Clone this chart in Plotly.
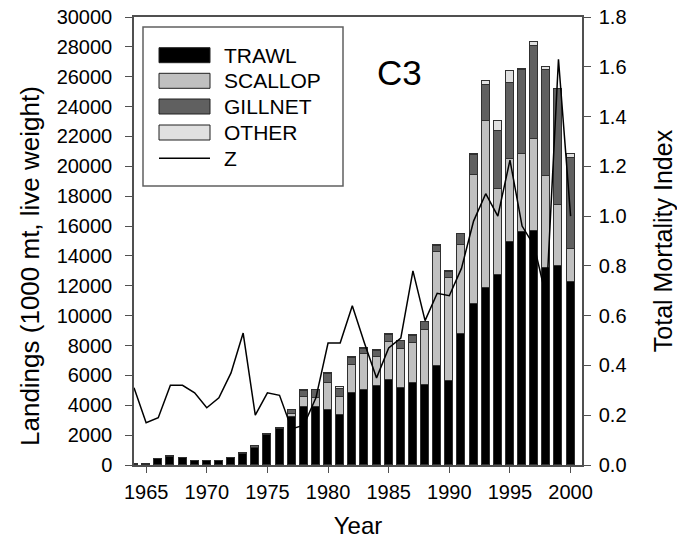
import plotly.graph_objects as go

years = list(range(1964, 2001))

trawl = [50, 80, 370, 550, 450, 280, 240, 240, 450, 760, 1160, 2020, 2400,
         3200, 3870, 3910, 3650, 3340, 4850, 5050, 5320, 5720, 5190, 5520, 5390,
         6660, 5650, 8800, 10810, 11880, 12750, 14960, 15580, 15650, 13220, 13350, 12240]
scallop = [0, 0, 0, 0, 0, 0, 0, 0, 0, 0, 0, 0, 0,
           230, 690, 590, 1850, 1200, 1830, 2350, 1900, 2550, 2610, 2660, 3680,
           7580, 6850, 5940, 8630, 11130, 5740, 5540, 5250, 6180, 6110, 4090, 2250]
gillnet = [0, 0, 0, 60, 30, 20, 20, 20, 30, 60, 90, 60, 100,
           270, 380, 500, 600, 560, 470, 400, 400, 430, 500, 470, 480,
           450, 430, 710, 1310, 2410, 3900, 5080, 5590, 6200, 7140, 7710, 6090]
other = [0, 0, 0, 0, 0, 0, 0, 0, 0, 0, 0, 0, 0,
         10, 110, 50, 70, 130, 90, 60, 60, 80, 30, 60, 50,
         30, 30, 30, 100, 270, 670, 820, 100, 270, 180, 50, 270]
z_index = [0.31, 0.17, 0.19, 0.32, 0.32, 0.29, 0.23, 0.27, 0.37, 0.53, 0.20, 0.29, 0.28,
           0.145, 0.16, 0.27, 0.49, 0.49, 0.64, 0.49, 0.35, 0.47, 0.51, 0.78, 0.58,
           0.69, 0.68, 0.79, 0.98, 1.09, 1.00, 1.225, 0.96, 0.88, 0.67, 1.63, 1.00]

series_names = ["TRAWL", "SCALLOP", "GILLNET", "OTHER"]
series_colors = ["#000000", "#c0c0c0", "#606060", "#e0e0e0"]
series_values = [trawl, scallop, gillnet, other]
line_name = "Z"
x_ticks = [1965, 1970, 1975, 1980, 1985, 1990, 1995, 2000]
y_ticks = list(range(0, 30001, 2000))
y2_ticks = [0.0, 0.2, 0.4, 0.6, 0.8, 1.0, 1.2, 1.4, 1.6, 1.8]

FONT = "Liberation Sans, Arial, sans-serif"
W, H = 677, 547
L, R, T, B = 134, 95, 17, 82
PW, PH = W - L - R, H - T - B

def px(x):
    return (x - L) / PW

def py(y):
    return (H - B - y) / PH

fig = go.Figure()
for name, color, vals in zip(series_names, series_colors, series_values):
    fig.add_trace(go.Bar(x=years, y=vals, name=name, width=0.66,
                         marker=dict(color=color, line=dict(color="#303030", width=1)),
                         showlegend=False))
fig.add_trace(go.Scatter(x=years, y=z_index, name=line_name, mode="lines",
                         line=dict(color="#000000", width=1.5), yaxis="y2",
                         showlegend=False))

axis_col = "#505050"
fig.update_layout(
    width=W, height=H,
    margin=dict(l=L, r=R, t=T, b=B, autoexpand=False),
    paper_bgcolor="white", plot_bgcolor="white",
    barmode="stack", bargap=0,
    font=dict(family=FONT, size=20, color="#000000"),
    xaxis=dict(range=[1964, 2000.94], tickvals=x_ticks, ticks="outside", ticklen=6,
               tickcolor=axis_col, showline=True, linecolor=axis_col, linewidth=1.5,
               mirror=True, showgrid=False, zeroline=False, ticklabelstandoff=2,
               automargin=False,
               title=dict(text="Year", font=dict(size=24), standoff=15)),
    yaxis=dict(range=[0, 30000], tickvals=y_ticks, ticks="outside", ticklen=7,
               tickcolor=axis_col, showline=True, linecolor=axis_col, linewidth=1.5,
               showgrid=False, zeroline=False, tickformat="d", ticklabelstandoff=9,
               automargin=False),
    yaxis2=dict(range=[0, 1.8], tickvals=y2_ticks, tickformat=".1f", overlaying="y",
                side="right", ticks="outside", ticklen=7, tickcolor=axis_col,
                showline=True, linecolor=axis_col, linewidth=1.5, showgrid=False,
                zeroline=False, ticklabelstandoff=4, automargin=False,
                title=dict(text="Total Mortality Index", font=dict(size=25), standoff=30)),
)

shapes = []
annotations = []
# left axis title (placed slightly below plot centre, as in the reference)
annotations.append(dict(text="Landings (1000 mt, live weight)", xref="paper", yref="paper",
                        x=px(30), y=py(266), xanchor="center", yanchor="middle",
                        textangle=-90, showarrow=False, font=dict(size=26)))
# legend box
shapes.append(dict(type="rect", xref="paper", yref="paper",
                   x0=px(143), x1=px(343), y0=py(186), y1=py(27),
                   line=dict(color="#606060", width=1.5), fillcolor="white", layer="above"))
row_y = [55.2, 80.8, 106.5, 132.5, 158.3]
for i, (name, color) in enumerate(zip(series_names, series_colors)):
    cy = row_y[i]
    shapes.append(dict(type="rect", xref="paper", yref="paper",
                       x0=px(159), x1=px(210), y0=py(cy + 7.5), y1=py(cy - 7.5),
                       line=dict(color="#202020", width=1), fillcolor=color, layer="above"))
    annotations.append(dict(text=name, xref="paper", yref="paper", x=px(222), y=py(cy),
                            xanchor="left", yanchor="middle", showarrow=False,
                            font=dict(size=21)))
shapes.append(dict(type="line", xref="paper", yref="paper",
                   x0=px(159), x1=px(210), y0=py(row_y[4]), y1=py(row_y[4]),
                   line=dict(color="#000000", width=1.5), layer="above"))
annotations.append(dict(text=line_name, xref="paper", yref="paper", x=px(222), y=py(row_y[4]),
                        xanchor="left", yanchor="middle", showarrow=False,
                        font=dict(size=21)))
annotations.append(dict(text="C3", xref="paper", yref="paper", x=px(399), y=py(72.5),
                        xanchor="center", yanchor="middle", showarrow=False,
                        font=dict(size=35)))
fig.update_layout(shapes=shapes, annotations=annotations)

fig.write_html("out.html")
